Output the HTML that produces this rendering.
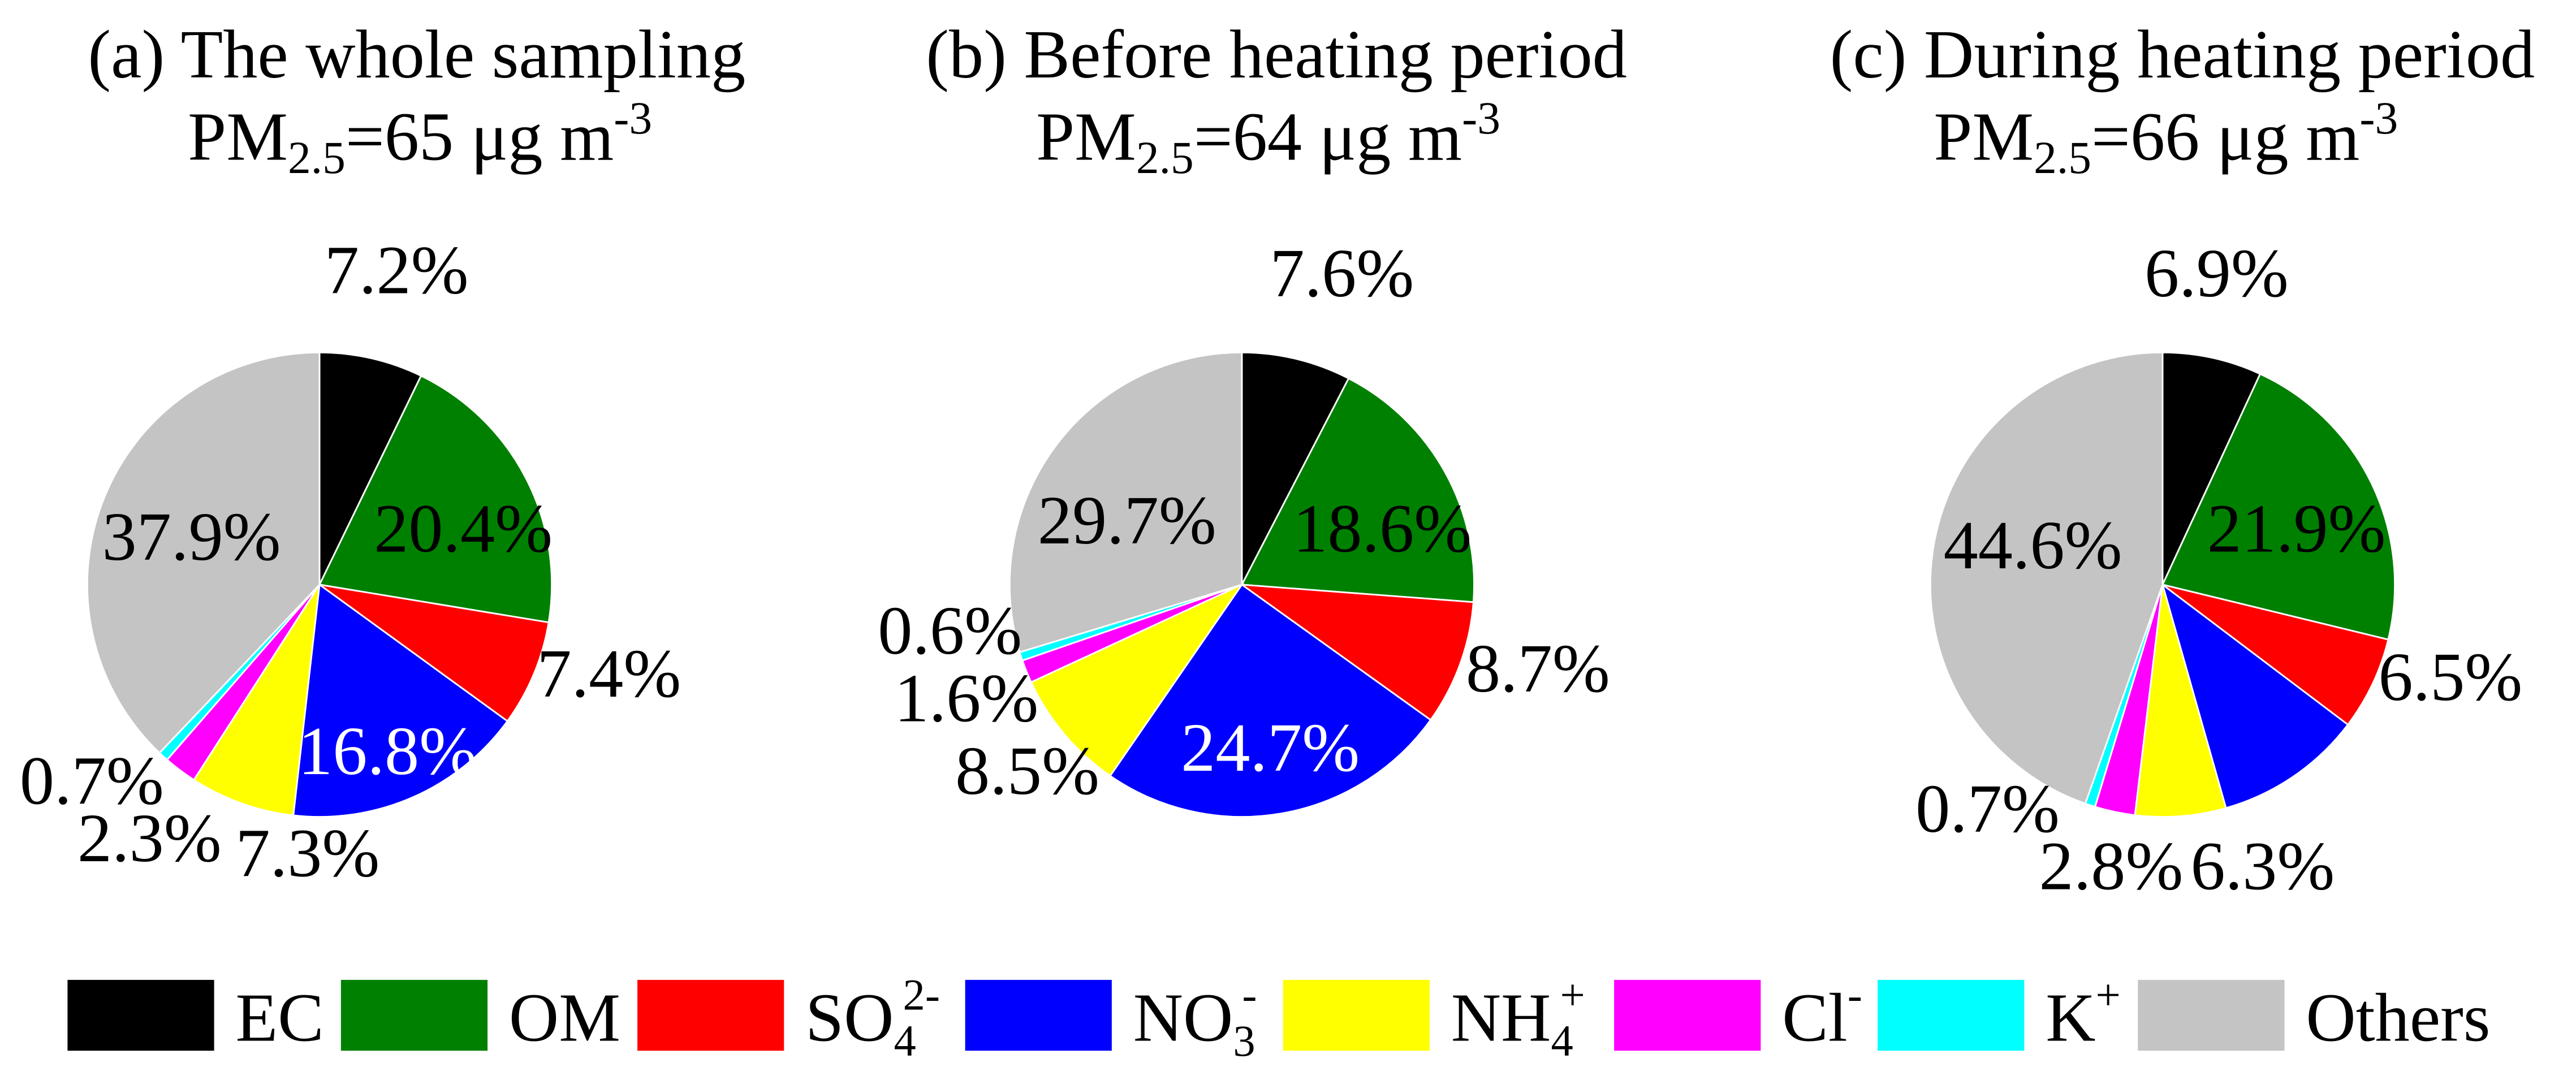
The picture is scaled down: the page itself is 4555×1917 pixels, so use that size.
<!DOCTYPE html>
<html><head><meta charset="utf-8"><style>
html,body{margin:0;padding:0;background:#fff;}
svg, svg text, svg tspan{font-family:"Liberation Serif","Times New Roman",serif;}
</style></head><body>
<svg id="chart" width="4555" height="1912" viewBox="0 0 1564 656.5" preserveAspectRatio="none" xmlns="http://www.w3.org/2000/svg" font-family="Liberation Serif, serif">
<g font-size="42" text-anchor="middle" font-family="Liberation Serif, serif">
<text x="253" y="47">(a) The whole sampling</text>
<text x="775" y="47">(b) Before heating period</text>
<text x="1325" y="47">(c) During heating period</text>
<text x="255" y="97">PM<tspan font-size="28" dy="8">2.5</tspan><tspan dy="-8">=65 μg m</tspan><tspan font-size="28" dy="-16">-3</tspan></text>
<text x="770" y="97">PM<tspan font-size="28" dy="8">2.5</tspan><tspan dy="-8">=64 μg m</tspan><tspan font-size="28" dy="-16">-3</tspan></text>
<text x="1315" y="97">PM<tspan font-size="28" dy="8">2.5</tspan><tspan dy="-8">=66 μg m</tspan><tspan font-size="28" dy="-16">-3</tspan></text>
</g>
<g id="pies"></g>
<g id="labels" font-size="42" font-family="Liberation Serif, serif"></g>
<g id="legend" font-size="42" font-family="Liberation Serif, serif"></g>
</svg>
<script>
const categories = ["EC","OM","SO4","NO3","NH4","Cl","K","Others"];
const colors = ["#000000","#008000","#ff0000","#0000ff","#ffff00","#ff00ff","#00ffff","#c4c4c4"];
const valuesA = [7.2,20.4,7.4,16.8,7.3,2.3,0.7,37.9];
const valuesB = [7.6,18.6,8.7,24.7,8.5,1.6,0.6,29.7];
const valuesC = [6.9,21.9,6.5,10.3,6.3,2.8,0.7,44.6];
const labelsA = ["7.2%","20.4%","7.4%","16.8%","7.3%","2.3%","0.7%","37.9%"];
const labelsB = ["7.6%","18.6%","8.7%","24.7%","8.5%","1.6%","0.6%","29.7%"];
const labelsC = ["6.9%","21.9%","6.5%","10.3%","6.3%","2.8%","0.7%","44.6%"];
const NS="http://www.w3.org/2000/svg";
const pies=[
 {id:"a",cx:194,vals:valuesA,labs:labelsA,pos:[[197,178],[227,335],[326,423],[181,470],[143,532],[47,523],[12,488],[62,340]]},
 {id:"b",cx:754,vals:valuesB,labs:labelsB,pos:[[771,180],[785,335],[890,420],[717,468],[580,482],[543,438],[533,397],[630,330]]},
 {id:"c",cx:1313,vals:valuesC,labs:labelsC,pos:[[1302,180],[1340,335],[1444,425],[1400,495],[1330,540],[1238,540],[1163,505],[1180,345]]}
];
const cy=355, r=141;
const gP=document.getElementById('pies'), gL=document.getElementById('labels');
pies.forEach(p=>{
  const total=p.vals.reduce((a,b)=>a+b,0);
  let acc=0;
  p.vals.forEach((v,i)=>{
    const a0=acc/total*2*Math.PI; acc+=v; const a1=acc/total*2*Math.PI;
    const x0=p.cx+r*Math.sin(a0), y0=cy-r*Math.cos(a0);
    const x1=p.cx+r*Math.sin(a1), y1=cy-r*Math.cos(a1);
    const large=(a1-a0)>Math.PI?1:0;
    const path=document.createElementNS(NS,'path');
    path.setAttribute('d',`M${p.cx},${cy}L${x0},${y0}A${r},${r} 0 ${large} 1 ${x1},${y1}Z`);
    path.setAttribute('fill',colors[i]);
    path.setAttribute('stroke','#fff');
    path.setAttribute('stroke-width','1');
    
    
    gP.appendChild(path);
    const t=document.createElementNS(NS,'text');
    t.setAttribute('x',p.pos[i][0]); t.setAttribute('y',p.pos[i][1]);
    t.setAttribute('fill',i===3?'#fff':'#000');
    t.textContent=p.labs[i];
    
    
    gL.appendChild(t);
  });
});
const legBox=[41,207,387,586,779,980,1140,1298];
const legTxt=[["EC"],["OM"],["SO","4","2-"],["NO","3","-"],["NH","4","+"],["Cl","","-"],["K","","+"],["Others"]];
const gLeg=document.getElementById('legend');
categories.forEach((c,i)=>{
  const rc=document.createElementNS(NS,'rect');
  rc.setAttribute('x',legBox[i]); rc.setAttribute('y',595); rc.setAttribute('width',89); rc.setAttribute('height',43);
  rc.setAttribute('fill',colors[i]);
  
  
  gLeg.appendChild(rc);
  const t=document.createElementNS(NS,'text');
  t.setAttribute('x',legBox[i]+102); t.setAttribute('y',632);
  const L=legTxt[i];
  let h=L[0];
  if(L.length>1){
    if(L[1]) h+=`<tspan font-size="27" dy="9">${L[1]}</tspan><tspan font-size="27" dx="-8" dy="-28">${L[2]}</tspan>`;
    else h+=`<tspan font-size="27" dy="-19">${L[2]}</tspan>`;
  }
  t.innerHTML=h;
  
  
  gLeg.appendChild(t);
});
</script>
</body></html>
